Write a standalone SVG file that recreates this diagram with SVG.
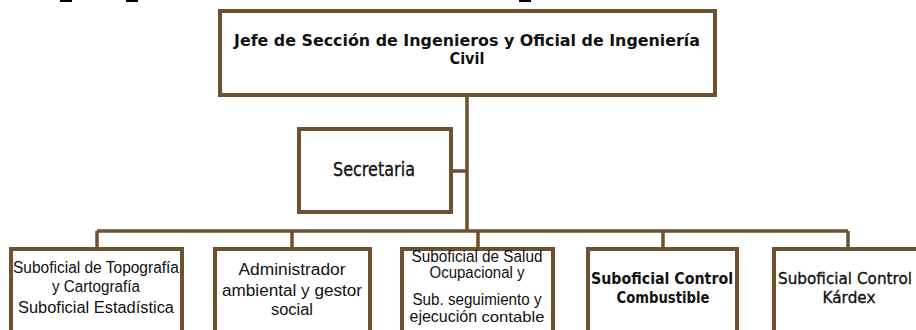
<svg xmlns="http://www.w3.org/2000/svg" width="916" height="330" viewBox="0 0 916 330">
<style>
.box{fill:#fff;stroke:#6e5230;stroke-width:4}
.ln{fill:none;stroke:#6e5230;stroke-width:3.5}
.t{font-family:"Liberation Sans",Arial,sans-serif;font-size:16px;fill:#111;text-anchor:middle}
.c{font-family:"DejaVu Sans","Open Sans",sans-serif;fill:#111;text-anchor:middle}
.b{font-weight:bold}
.m{stroke:#111;stroke-width:0.35}
</style>
<rect width="916" height="330" fill="#fff"/>
<g id="marks" fill="#000">
<rect x="60" y="0" width="12" height="2"/>
<rect x="126" y="0" width="12" height="2"/>
<rect x="519" y="0" width="12" height="2"/>
</g>
<g id="connectors">
<path class="ln" d="M467 95 V231 M451 171 H467 M97 231 H848 M97 231 V249 M292 231 V249 M478 231 V249 M663 231 V249 M848 231 V249"/>
</g>
<g id="jefe">
<rect class="box" x="220" y="11" width="495" height="84"/>
<text class="c b" x="467" y="46" font-size="16.5" textLength="466" lengthAdjust="spacingAndGlyphs">Jefe de Sección de Ingenieros y Oficial de Ingeniería</text>
<text class="c b" x="467" y="64" font-size="16.5" textLength="35" lengthAdjust="spacingAndGlyphs">Civil</text>
</g>
<g id="secretaria">
<rect class="box" x="299" y="129" width="152" height="83"/>
<text class="c m" x="374" y="176" font-size="19.5" textLength="82" lengthAdjust="spacingAndGlyphs">Secretaria</text>
</g>
<g id="topografia">
<rect class="box" x="11" y="249" width="171" height="95"/>
<text class="t" x="96" y="273" textLength="166" lengthAdjust="spacingAndGlyphs">Suboficial de Topografía</text>
<text class="t" x="96" y="292" textLength="88" lengthAdjust="spacingAndGlyphs">y Cartografía</text>
<text class="t" x="96" y="313" textLength="156" lengthAdjust="spacingAndGlyphs">Suboficial Estadística</text>
</g>
<g id="administrador">
<rect class="box" x="215" y="249" width="155" height="95"/>
<text class="t" x="292" y="275" textLength="107" lengthAdjust="spacingAndGlyphs">Administrador</text>
<text class="t" x="292" y="296" textLength="140" lengthAdjust="spacingAndGlyphs">ambiental y gestor</text>
<text class="t" x="292" y="315" textLength="42" lengthAdjust="spacingAndGlyphs">social</text>
</g>
<g id="salud">
<rect class="box" x="402" y="249" width="151" height="95"/>
<text class="t" x="477" y="262" font-size="13.5" textLength="131" lengthAdjust="spacingAndGlyphs">Suboficial de Salud</text>
<text class="t" x="477" y="278" font-size="13.5" textLength="95" lengthAdjust="spacingAndGlyphs">Ocupacional y</text>
<text class="t" x="477" y="305" font-size="13.5" textLength="129" lengthAdjust="spacingAndGlyphs">Sub. seguimiento y</text>
<text class="t" x="477" y="322" font-size="13.5"><tspan textLength="72" lengthAdjust="spacingAndGlyphs">ejecución </tspan><tspan font-size="15.5" textLength="63" lengthAdjust="spacingAndGlyphs">contable</tspan></text>
</g>
<g id="combustible">
<rect class="box" x="588" y="249" width="149" height="95"/>
<text class="c b" x="662" y="284" font-size="16.5" textLength="142" lengthAdjust="spacingAndGlyphs">Suboficial Control</text>
<text class="c b" x="663" y="303" font-size="16.5" textLength="93" lengthAdjust="spacingAndGlyphs">Combustible</text>
</g>
<g id="kardex">
<rect class="box" x="774" y="249" width="150" height="95"/>
<text class="c m" x="845" y="284" font-size="16.5" textLength="134" lengthAdjust="spacingAndGlyphs">Suboficial  Control</text>
<text class="c m" x="849" y="303" font-size="16.5" textLength="53" lengthAdjust="spacingAndGlyphs">Kárdex</text>
</g>
</svg>
